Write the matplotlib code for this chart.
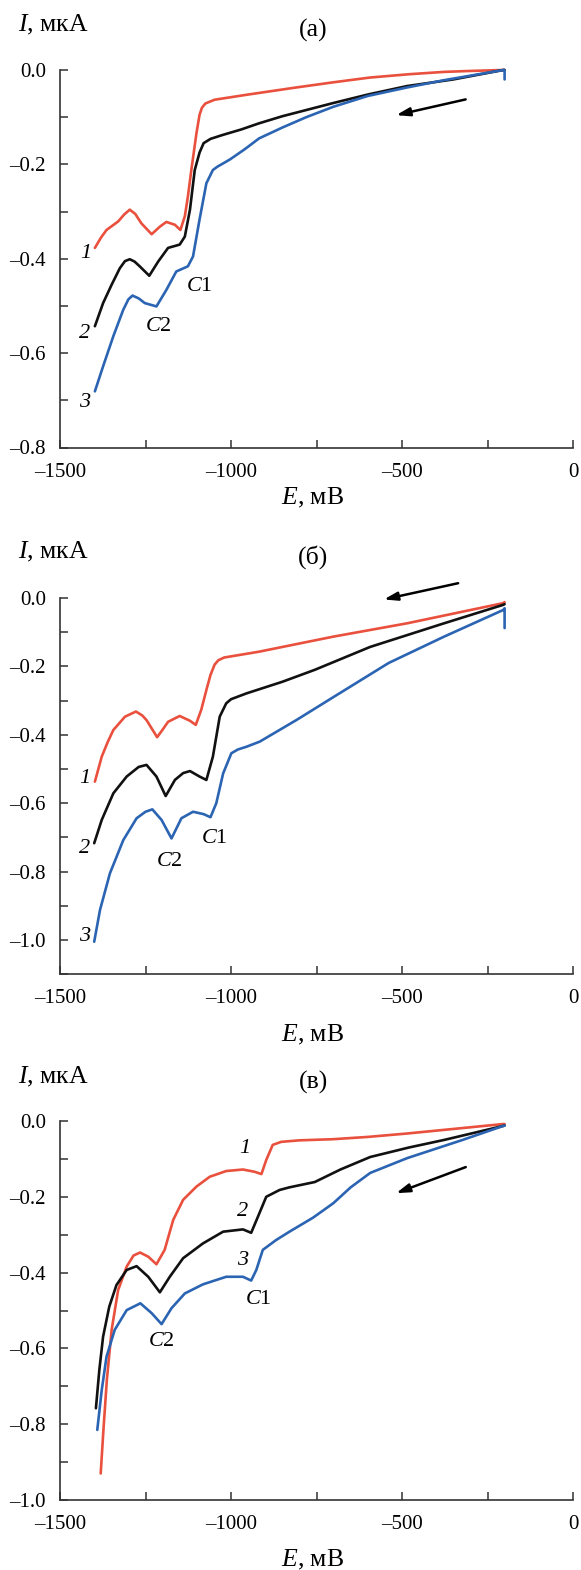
import matplotlib
matplotlib.use("Agg")
import matplotlib.pyplot as plt
from matplotlib.ticker import MultipleLocator, FuncFormatter

plt.rcParams['font.family'] = ['Liberation Serif', 'DejaVu Serif']
plt.rcParams['mathtext.fontset'] = 'custom'
plt.rcParams['mathtext.rm'] = 'Liberation Serif'
plt.rcParams['mathtext.it'] = 'Liberation Serif:italic'

RED = '#E9503D'
BLACK = '#111111'
BLUE = '#2B64B2'

# ---- panel (a) ----
a_E1 = [-1398, -1380, -1364, -1330, -1312, -1296, -1280, -1262, -1232, -1208, -1189, -1164,
        -1148, -1135, -1126, -1116, -1101, -1092, -1085, -1075, -1048, -950, -809, -700, -594,
        -480, -377, -300, -205, -200]
a_I1 = [-0.377, -0.355, -0.339, -0.321, -0.306, -0.296, -0.305, -0.325, -0.348, -0.332, -0.322,
        -0.328, -0.339, -0.310, -0.268, -0.212, -0.134, -0.095, -0.080, -0.071, -0.063, -0.052,
        -0.037, -0.026, -0.016, -0.009, -0.004, -0.002, 0.0, 0.0]
a_E2 = [-1398, -1374, -1349, -1325, -1310, -1296, -1282, -1267, -1239, -1213, -1184, -1150,
        -1135, -1120, -1106, -1092, -1080, -1060, -1026, -970, -918, -850, -701, -600, -485,
        -350, -204, -200]
a_I2 = [-0.543, -0.494, -0.455, -0.420, -0.405, -0.401, -0.406, -0.416, -0.436, -0.406, -0.377,
        -0.370, -0.353, -0.296, -0.212, -0.175, -0.155, -0.146, -0.138, -0.126, -0.113, -0.098,
        -0.070, -0.052, -0.034, -0.020, 0.0, 0.0]
a_E3 = [-1398, -1374, -1344, -1315, -1300, -1288, -1270, -1252, -1218, -1189, -1160, -1126,
        -1111, -1092, -1072, -1053, -1040, -1004, -960, -918, -850, -780, -701, -600, -485,
        -380, -204, -200, -200]
a_I3 = [-0.681, -0.628, -0.564, -0.508, -0.486, -0.478, -0.484, -0.494, -0.501, -0.466, -0.427,
        -0.416, -0.395, -0.317, -0.240, -0.212, -0.205, -0.190, -0.168, -0.145, -0.122, -0.100,
        -0.078, -0.055, -0.037, -0.022, 0.0, 0.0, -0.02]

# ---- panel (б) ----
b_E1 = [-1398, -1378, -1360, -1344, -1310, -1278, -1260, -1247, -1216, -1200, -1184, -1150,
        -1120, -1103, -1087, -1072, -1060, -1048, -1037, -1020, -918, -701, -485, -204, -200]
b_I1 = [-0.537, -0.464, -0.420, -0.386, -0.347, -0.332, -0.343, -0.357, -0.407, -0.385, -0.362,
        -0.345, -0.359, -0.371, -0.327, -0.269, -0.225, -0.195, -0.182, -0.174, -0.157, -0.113,
        -0.074, -0.015, -0.012]
b_E2 = [-1400, -1378, -1344, -1305, -1270, -1247, -1218, -1191, -1164, -1140, -1120, -1092,
        -1072, -1053, -1033, -1014, -1000, -955, -850, -755, -593, -377, -204, -200]
b_I2 = [-0.717, -0.649, -0.571, -0.522, -0.494, -0.488, -0.522, -0.579, -0.532, -0.512, -0.506,
        -0.522, -0.532, -0.464, -0.347, -0.308, -0.296, -0.279, -0.245, -0.210, -0.143, -0.074,
        -0.020, -0.018]
b_E3 = [-1400, -1383, -1354, -1315, -1276, -1250, -1230, -1203, -1174, -1145, -1111, -1080,
        -1060, -1043, -1023, -999, -980, -955, -916, -809, -701, -539, -377, -204, -200, -200]
b_I3 = [-1.005, -0.912, -0.805, -0.708, -0.644, -0.625, -0.618, -0.649, -0.703, -0.644, -0.625,
        -0.632, -0.641, -0.600, -0.513, -0.454, -0.443, -0.435, -0.420, -0.357, -0.290, -0.190,
        -0.113, -0.035, -0.03, -0.088]

# ---- panel (в) ----
c_E1 = [-1381, -1373, -1363, -1349, -1330, -1305, -1285, -1266, -1242, -1218, -1194, -1169,
        -1140, -1101, -1062, -1014, -965, -931, -911, -897, -878, -853, -800, -701, -600, -485,
        -204, -200]
c_I1 = [-0.930, -0.815, -0.683, -0.551, -0.446, -0.384, -0.355, -0.347, -0.358, -0.378, -0.340,
        -0.261, -0.208, -0.173, -0.147, -0.132, -0.128, -0.134, -0.140, -0.103, -0.063, -0.055,
        -0.051, -0.048, -0.042, -0.033, -0.008, -0.008]
c_E2 = [-1395, -1385, -1374, -1356, -1335, -1305, -1276, -1242, -1208, -1179, -1140, -1082,
        -1023, -965, -941, -921, -897, -858, -829, -755, -680, -593, -480, -377, -204, -200]
c_I2 = [-0.758, -0.657, -0.569, -0.490, -0.433, -0.393, -0.383, -0.411, -0.452, -0.411, -0.362,
        -0.323, -0.292, -0.286, -0.295, -0.252, -0.200, -0.182, -0.175, -0.161, -0.128, -0.095,
        -0.070, -0.050, -0.013, -0.012]
c_E3 = [-1391, -1378, -1364, -1340, -1305, -1265, -1232, -1203, -1174, -1135, -1082, -1014,
        -965, -941, -926, -907, -868, -829, -760, -701, -650, -593, -485, -323, -204, -200]
c_I3 = [-0.815, -0.710, -0.622, -0.551, -0.499, -0.481, -0.507, -0.536, -0.494, -0.455, -0.431,
        -0.411, -0.411, -0.421, -0.393, -0.340, -0.314, -0.292, -0.255, -0.217, -0.175, -0.137,
        -0.098, -0.050, -0.013, -0.012]

panels = [
    dict(tag='(а)', curves=[(a_E1, a_I1, RED), (a_E2, a_I2, BLACK), (a_E3, a_I3, BLUE)],
         ylim=(-0.8, 0.0), rect=(60, 70, 447.5), ytxt=(25, 30, 498),
         nums=[(-1424, -0.389), (-1427, -0.559), (-1427, -0.705)],
         c1=(-1093, -0.459), c2=(-1213, -0.543),
         arrow=((-306, -0.061), (-525, -0.097))),
    dict(tag='(б)', curves=[(b_E1, b_I1, RED), (b_E2, b_I2, BLACK), (b_E3, b_I3, BLUE)],
         ylim=(-1.1, 0.0), rect=(60, 598, 974.2), ytxt=(552, 557, 1035),
         nums=[(-1427, -0.527), (-1427, -0.731), (-1427, -0.990)],
         c1=(-1048, -0.703), c2=(-1179, -0.771),
         arrow=((-328, 0.045), (-561, -0.006))),
    dict(tag='(в)', curves=[(c_E1, c_I1, RED), (c_E2, c_I2, BLACK), (c_E3, c_I3, BLUE)],
         ylim=(-1.0, 0.0), rect=(60, 1121, 1500), ytxt=(1077, 1082, 1560),
         nums=[(-960, -0.072), (-965, -0.239), (-965, -0.367)],
         c1=(-921, -0.472), c2=(-1203, -0.582),
         arrow=((-306, -0.119), (-525, -0.193))),
]

W, H = 581, 1570
fig = plt.figure(figsize=(W / 100, H / 100), dpi=100)

xfmt = FuncFormatter(lambda v, p: ('%d' % round(v)).replace('-', '\u2013'))
yfmt = FuncFormatter(lambda v, p: ('%.1f' % v).replace('-', '\u2013') if abs(v) > 1e-9 else '0.0')

for p in panels:
    left, top, bottom = p['rect']
    ax = fig.add_axes([left / W, 1 - bottom / H, 513 / W, (bottom - top) / H])
    for E, I, col in p['curves']:
        ax.plot(E, I, color=col, lw=1.9, solid_joinstyle='round', solid_capstyle='round',
                clip_on=False)
    ax.set_xlim(-1500, 0)
    ax.set_ylim(*p['ylim'])
    for s in ['top', 'right']:
        ax.spines[s].set_visible(False)
    for s in ['left', 'bottom']:
        ax.spines[s].set_linewidth(1.2)
        ax.spines[s].set_color('#333333')
    ax.xaxis.set_major_locator(MultipleLocator(500))
    ax.xaxis.set_minor_locator(MultipleLocator(250))
    ax.yaxis.set_major_locator(MultipleLocator(0.2))
    ax.yaxis.set_minor_locator(MultipleLocator(0.1))
    ax.xaxis.set_major_formatter(xfmt)
    ax.yaxis.set_major_formatter(yfmt)
    ax.tick_params(which='both', direction='in', length=6, width=1.1, color='#333333')
    ax.tick_params(axis='x', labelsize=15, pad=11)
    ax.tick_params(axis='y', labelsize=15, pad=10)

    # curve numbers and peak labels
    for k, (ex, iy) in enumerate(p['nums']):
        ax.text(ex, iy, str(k + 1), fontsize=16, fontstyle='italic', ha='center', va='center')
    ax.text(*p['c1'], '$C$1', fontsize=16, ha='center', va='center')
    ax.text(*p['c2'], '$C$2', fontsize=16, ha='center', va='center')

    (x0, y0), (x1, y1) = p['arrow']
    ax.annotate('', xy=(x1, y1), xytext=(x0, y0),
                arrowprops=dict(arrowstyle='-|>,head_length=0.8,head_width=0.25',
                                color='black', lw=1.8), annotation_clip=False)

    yl, yt, yx = p['ytxt']
    fig.text(18 / W, 1 - yl / H, '$I$, мкА', fontsize=18.5, ha='left', va='center')
    fig.text(313 / W, 1 - yt / H, p['tag'], fontsize=18.5, ha='center', va='center')
    fig.text(313 / W, 1 - yx / H, '$E$, мВ', fontsize=18.5, ha='center', va='center')

fig.savefig('out.png', dpi=100)
